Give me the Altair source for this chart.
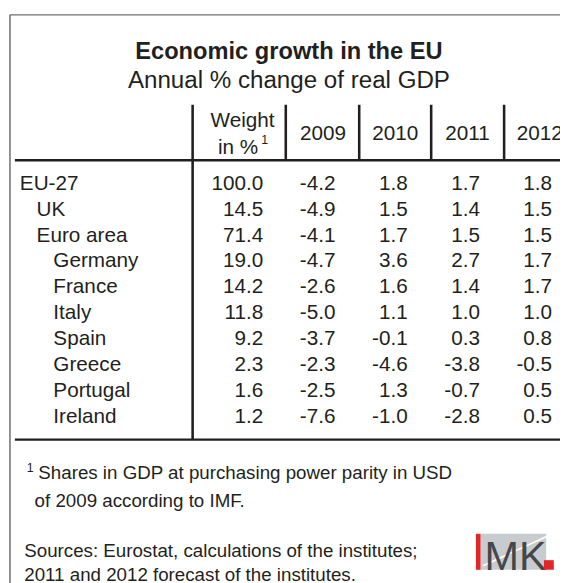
import altair as alt
import pandas as pd

# ---------------- data ----------------
countries = ["EU-27", "UK", "Euro area", "Germany", "France", "Italy",
             "Spain", "Greece", "Portugal", "Ireland"]
levels = [0, 1, 1, 2, 2, 2, 2, 2, 2, 2]
weight = [100.0, 14.5, 71.4, 19.0, 14.2, 11.8, 9.2, 2.3, 1.6, 1.2]
g2009 = [-4.2, -4.9, -4.1, -4.7, -2.6, -5.0, -3.7, -2.3, -2.5, -7.6]
g2010 = [1.8, 1.5, 1.7, 3.6, 1.6, 1.1, -0.1, -4.6, 1.3, -1.0]
g2011 = [1.7, 1.4, 1.5, 2.7, 1.4, 1.0, 0.3, -3.8, -0.7, -2.8]
g2012 = [1.8, 1.5, 1.5, 1.7, 1.7, 1.0, 0.8, -0.5, 0.5, 0.5]
columns = ["Weight", "2009", "2010", "2011", "2012"]
years = ["2009", "2010", "2011", "2012"]

title_text = "Economic growth in the EU"
subtitle_text = "Annual % change of real GDP"
weight_head1 = "Weight"
weight_head2 = "in %"
footnote_mark = "1"
footnote1 = "Shares in GDP at purchasing power parity in USD"
footnote2 = "of 2009 according to IMF."
source1 = "Sources: Eurostat, calculations of the institutes;"
source2 = "2011 and 2012 forecast of the institutes."
logo_text = "MK"

# ---------------- styles ----------------
FONT = "Liberation Sans, Arial, Helvetica, sans-serif"
INK = "#231f20"
BOX = "#6d6e71"
TS = 21      # table font size
FS = 19      # footnote font size

series = {"Weight": weight, "2009": g2009, "2010": g2010, "2011": g2011, "2012": g2012}
records = []
for c in columns:
    for country, v in zip(countries, series[c]):
        records.append({"country": country, "col": c, "label": f"{v:.1f}"})
cells = pd.DataFrame(records)
labels = pd.DataFrame({"country": countries, "level": levels})
heads = pd.DataFrame({"col": years})
one = pd.DataFrame({"k": [0]})

y_rows = alt.Y("country:N", axis=None,
               scale=alt.Scale(type="point", domain=countries, range=[174.2, 410.8], padding=0))
x_cols = alt.X("col:N", axis=None,
               scale=alt.Scale(type="point", domain=columns, range=[259, 552], padding=0))

numbers = alt.Chart(cells).mark_text(
    align="right", baseline="middle", font=FONT, fontSize=TS, color=INK
).encode(x=x_cols, y=y_rows, text="label:N")

row_labels = alt.Chart(labels).mark_text(
    align="left", baseline="middle", font=FONT, fontSize=TS, color=INK
).encode(
    x=alt.X("level:O", axis=None,
            scale=alt.Scale(type="point", domain=[0, 1, 2], range=[12, 46], padding=0)),
    y=y_rows, text="country:N")

year_heads = alt.Chart(heads).mark_text(
    align="center", baseline="middle", font=FONT, fontSize=TS, color=INK, dx=-12.6
).encode(x=x_cols, y=alt.value(123.7), text="col:N")


def txt(s, x, y, size, align="left", weight="normal", font=FONT, color=INK, baseline="middle"):
    return alt.Chart(one).mark_text(
        text=s, align=align, baseline=baseline, font=font, fontSize=size,
        fontWeight=weight, color=color
    ).encode(x=alt.value(x), y=alt.value(y))


def hrule(x1, x2, y, color, w):
    return alt.Chart(one).mark_rule(color=color, strokeWidth=w).encode(
        x=alt.value(x1), x2=alt.value(x2), y=alt.value(y))


def vrule(x, y1, y2, color, w):
    return alt.Chart(one).mark_rule(color=color, strokeWidth=w).encode(
        x=alt.value(x), y=alt.value(y1), y2=alt.value(y2))


def rect(x1, x2, y1, y2, color):
    return alt.Chart(one).mark_rect(color=color).encode(
        x=alt.value(x1), x2=alt.value(x2), y=alt.value(y1), y2=alt.value(y2))


layers = [
    # outer box
    hrule(2, 620, 2.8, BOX, 1.5),
    vrule(2, 2.8, 620, BOX, 1.5),
    # titles
    txt(title_text, 285, 40.5, 24, align="center", weight="bold"),
    txt(subtitle_text, 285, 69.5, 24.5, align="center"),
    # header
    txt(weight_head1, 238, 110.2, TS, align="center"),
    txt(weight_head2, 213, 138.2, TS),
    txt(footnote_mark, 257, 129.7, 12.5),
    year_heads,
    # table lines
    vrule(187.3, 94, 433.7, INK, 2.6),
    vrule(281.8, 94, 150.3, INK, 2.6),
    vrule(356.3, 94, 150.3, INK, 2.6),
    vrule(429.3, 94, 150.3, INK, 2.6),
    vrule(503.3, 94, 150.3, INK, 2.6),
    hrule(7, 620, 150.3, INK, 2.4),
    hrule(7, 620, 433.7, INK, 2.4),
    # body
    row_labels,
    numbers,
    # footnotes
    txt(footnote_mark, 19, 462.2, 12.5),
    txt(footnote1, 30.8, 467.6, FS),
    txt(footnote2, 27, 496, FS),
    txt(source1, 16.5, 546.5, FS),
    txt(source2, 16.5, 571.5, FS),
    # logo
    rect(474.7, 546, 529.3, 565.7, "#c9ccce"),
    alt.Chart(one).mark_rule(color="white", strokeWidth=1.5).encode(
        x=alt.value(482), y=alt.value(561.7), x2=alt.value(547), y2=alt.value(531.7)),
    rect(474.7, 479.3, 529.3, 565.7, "#e3252a"),
    txt(logo_text, 483.5, 565.7, 42, color="#45474b", baseline="alphabetic"),
    rect(543.7, 553.7, 556, 565.7, "#e3252a"),
]

chart = alt.layer(*layers).properties(
    width=560, height=575,
    autosize=alt.AutoSizeParams(type="none"),
    padding=0,
).resolve_scale(x="independent").configure_view(stroke=None)

chart.save("out.html", embed_options={"renderer": "svg", "actions": False})
